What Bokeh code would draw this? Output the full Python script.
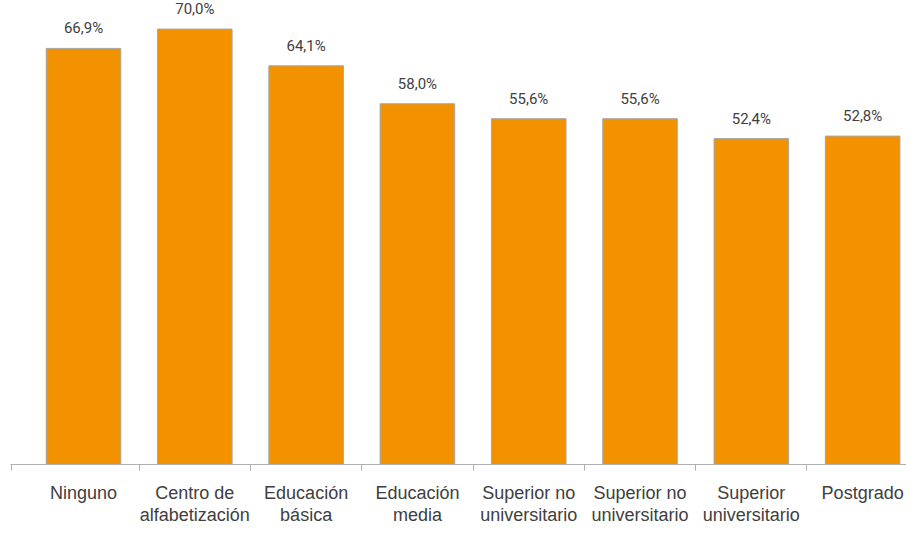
from bokeh.plotting import figure
from bokeh.models import Range1d, FixedTicker, LinearAxis, ColumnDataSource
from bokeh.core.properties import value
from bokeh.embed import file_html
from bokeh.resources import INLINE

# ---- data ----
labels_line1 = ["Ninguno", "Centro de", "Educación", "Educación", "Superior no",
                "Superior no", "Superior", "Postgrado"]
labels_line2 = ["", "alfabetización", "básica", "media", "universitario",
                "universitario", "universitario", ""]
values = [66.9, 70.0, 64.1, 58.0, 55.6, 55.6, 52.4, 52.8]

value_labels = [f"{v:.1f}".replace(".", ",") + "%" for v in values]
xs = list(range(len(values)))
zeros = [0] * len(values)
src = ColumnDataSource(dict(x=xs, top=values, lab=value_labels,
                            base=zeros, l1=labels_line1, l2=labels_line2))

BAR = "#F39200"
EDGE = "#A6A6A6"
AXIS = "#B0B0B0"
TXT = "#404040"
CAT_FONT = "Liberation Sans"
VAL_FONT = "Roboto"

p = figure(width=906, height=526, output_backend="svg", toolbar_location=None,
           x_range=Range1d(-0.656, 7.394), y_range=Range1d(0, 74.6),
           min_border_left=10, min_border_right=0, min_border_top=0,
           min_border_bottom=62,
           x_axis_location=None, y_axis_location=None)
p.grid.visible = False
p.outline_line_color = None
p.background_fill_color = "white"
p.border_fill_color = "white"

p.vbar(x="x", top="top", width=0.67, source=src, fill_color=BAR,
       line_color=EDGE, line_width=1)
p.text(x="x", y="top", text="lab", source=src, text_align="center",
       text_baseline="alphabetic", y_offset=-20, level="overlay",
       text_font=value(VAL_FONT), text_font_size="15px", text_color=TXT)

# category labels (two lines) below the axis
p.text(x="x", y="base", text="l1", source=src, text_align="center",
       text_baseline="alphabetic", y_offset=28, level="overlay",
       text_font=value(CAT_FONT), text_font_size="18px", text_color=TXT)
p.text(x="x", y="base", text="l2", source=src, text_align="center",
       text_baseline="alphabetic", y_offset=50, level="overlay",
       text_font=value(CAT_FONT), text_font_size="18px", text_color=TXT)

boundaries = [-0.65] + [i + 0.5 for i in range(len(values) - 1)]

ax1 = LinearAxis(ticker=FixedTicker(ticks=[], minor_ticks=boundaries),
                 major_tick_out=0, major_tick_in=0,
                 minor_tick_out=6, minor_tick_in=0,
                 minor_tick_line_color=AXIS, major_tick_line_color=None,
                 axis_line_color=AXIS, axis_line_width=1,
                 major_label_standoff=0,
                 major_label_text_font_size="0px")
p.add_layout(ax1, "below")

open("out.html", "w").write(file_html(p, INLINE))
